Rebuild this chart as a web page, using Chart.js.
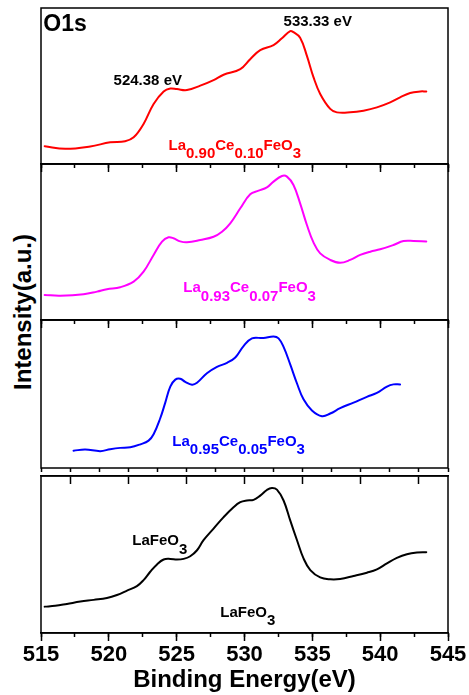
<!DOCTYPE html>
<html>
<head>
<meta charset="utf-8">
<script src="https://cdn.jsdelivr.net/npm/chart.js@4.4.1/dist/chart.umd.min.js"></script>
<style>
html,body{margin:0;padding:0;background:#fff;}
body{width:469px;height:695px;position:relative;overflow:hidden;}
canvas{position:absolute;left:0;}
#ylab{position:absolute;left:23px;top:312px;transform:translate(-50%,-50%) rotate(-90deg);font:bold 24px "Liberation Sans",Arial,sans-serif;white-space:nowrap;color:#000;}
</style>
</head>
<body>
<div id="ylab">Intensity(a.u.)</div>
<canvas id="c0"></canvas>
<canvas id="c1"></canvas>
<canvas id="c2"></canvas>
<canvas id="c3"></canvas>
<script>
// ---------- data ----------
const xTickValues = [515, 520, 525, 530, 535, 540, 545];
const xTickLabels = ['515', '520', '525', '530', '535', '540', '545'];
const xMinorValues = [515, 517.5, 520, 522.5, 525, 527.5, 530, 532.5, 535, 537.5, 540, 542.5, 545];
// own axis of the La0.95Ce0.05FeO3 panel
const blueTickValues = [515, 520, 525, 530, 535, 540, 545];
const blueMinorValues = [512.5, 515, 517.5, 520, 522.5, 525, 527.5, 530, 532.5, 535, 537.5, 540, 542.5, 545, 547.5];

const energy090 = [515.27,516.79,518.63,520.10,521.20,521.83,522.56,523.30,524.04,524.53,525.02,525.76,526.74,527.72,528.46,529.69,530.42,531.16,532.14,532.76,533.37,533.61,534.10,534.60,535.09,535.58,536.32,536.81,537.79,538.77,539.76,540.74,541.47,542.21,542.95,543.40];
const intensity090 = [11.4,9.7,11.2,13.9,14.6,17.1,25.7,38.5,46.5,48.4,48.0,47.4,50.2,53.8,57.2,60.8,67.2,73.0,76.2,80.6,85.2,84.5,81.0,69.3,55.5,44.9,35.3,33.1,33.1,34.2,36.3,39.5,42.7,45.5,46.5,46.5];

const energy093 = [515.27,516.42,518.14,519.13,519.86,520.84,521.83,522.56,523.30,523.92,524.40,524.77,525.26,525.76,526.74,527.72,528.34,528.95,529.69,530.42,531.04,531.65,532.14,532.76,533.13,533.61,534.10,534.60,535.09,535.58,536.32,537.05,537.79,538.53,539.27,540.00,540.98,541.72,542.46,543.40];
const intensity093 = [16.0,15.6,16.5,18.2,19.7,21.0,24.6,31.0,41.7,50.2,53.0,52.4,50.4,49.8,51.3,53.4,56.6,62.0,71.6,80.6,82.9,85.0,88.7,92.3,91.9,86.5,74.8,60.9,49.6,42.7,38.5,36.7,38.5,41.7,43.8,45.3,48.1,50.6,50.7,50.4];

const energy095 = [517.40,518.26,519.37,520.10,520.84,521.58,522.32,522.93,523.30,523.79,524.16,524.53,524.90,525.26,525.63,526.13,526.50,527.23,527.97,528.71,529.32,529.93,530.55,531.40,532.14,532.51,532.88,533.37,533.87,534.35,534.97,535.71,536.32,537.05,538.04,539.02,539.76,540.50,540.98,541.47];
const intensity095 = [11.7,12.5,11.4,12.7,13.6,14.0,16.0,18.5,22.8,33.6,44.2,55.0,59.7,60.3,58.2,56.3,57.6,64.0,68.3,71.1,74.7,82.4,87.6,87.8,88.9,87.6,81.8,70.0,57.1,46.4,38.9,35.0,36.8,40.4,44.2,48.1,50.7,55.0,56.5,56.5];

const energyLFO = [515.27,516.05,516.91,517.90,518.88,519.86,520.60,521.34,522.07,522.56,523.05,523.55,524.04,524.53,525.02,525.51,526.00,526.50,526.98,527.72,528.46,529.19,529.69,530.18,530.67,531.16,531.65,532.02,532.39,532.88,533.37,533.87,534.35,534.85,535.58,536.32,537.05,538.04,539.02,539.76,540.50,541.23,541.97,542.71,543.40];
const intensityLFO = [16.8,17.3,18.5,20.0,21.1,22.3,24.2,27.0,29.9,33.7,39.0,43.7,46.8,47.2,46.8,47.2,48.9,52.7,59.1,66.5,73.8,80.1,83.3,84.4,84.8,87.5,91.1,92.4,91.3,84.4,71.7,59.1,47.5,40.1,35.4,34.2,34.4,36.3,38.4,40.5,44.3,47.8,50.2,51.3,51.5];

// ---------- layout ----------
const FONT = '"Liberation Sans", Arial, sans-serif';
const panelEdges = [[8,164],[164,320],[320,476],[476,633]];
const SUB = 8.5;

function pts(xs, ys){ return xs.map((x,i)=>({x:x, y:ys[i]})); }

function textPlugin(items){
  return {
    id:'panelText',
    afterDatasetsDraw(chart){
      const ctx = chart.ctx, xs = chart.scales.x, ys = chart.scales.y;
      items.forEach(it=>{
        let px = xs.getPixelForValue(it.x);
        const py = ys.getPixelForValue(it.y);
        ctx.save();
        ctx.fillStyle = it.color;
        ctx.font = 'bold ' + it.size + 'px ' + FONT;
        ctx.textBaseline = 'middle';
        ctx.textAlign = 'left';
        it.parts.forEach(p=>{
          ctx.fillText(p[0], px, py + (p[1] ? SUB : 0));
          px += ctx.measureText(p[0]).width;
        });
        ctx.restore();
      });
    }
  };
}
const framePlugin = {
  id:'frame',
  afterDraw(chart){
    const a = chart.chartArea, ctx = chart.ctx;
    ctx.save();
    ctx.strokeStyle = '#000';
    ctx.lineWidth = 1.5;
    ctx.strokeRect(a.left, a.top, a.right - a.left, a.bottom - a.top);
    ctx.restore();
  }
};

function tickAxis(min, max, values, len, pos, extra){
  return Object.assign({
    type:'linear', min:min, max:max, position:pos,
    afterBuildTicks: s=>{ s.ticks = values.map(v=>({value:v})); },
    grid:{display:true, drawOnChartArea:false, drawTicks:true, tickLength:len, tickWidth:1.5, tickColor:'#000'},
    border:{display:false},
    ticks:{display:false}
  }, extra || {});
}

function makePanel(idx, data, color, items, ownAxis){
  const [top, bottom] = panelEdges[idx];
  const last = idx === panelEdges.length - 1;
  const padTop = 4;
  const axisH = last ? (695 - bottom) : 8;
  const padBottom = last ? 0 : 4;
  const cTop = top - padTop;
  const cH = (bottom - top) + padTop + axisH + padBottom;
  const cv = document.getElementById('c' + idx);
  cv.width = 469; cv.height = cH;
  cv.style.top = cTop + 'px';
  cv.style.width = '469px'; cv.style.height = cH + 'px';

  const scales = {
    x: {
      type:'linear', min:515, max:545, position:'bottom', display: !ownAxis,
      afterBuildTicks: s=>{ s.ticks = xTickValues.map(v=>({value:v})); },
      afterFit: s=>{ s.height = axisH; },
      grid:{display:true, drawOnChartArea:false, drawTicks:true, tickLength:8, tickWidth:1.5, tickColor:'#000'},
      border:{display:true, color:'#000', width:1.5},
      ticks:{
        display:last, autoSkip:false, maxRotation:0, padding:1, color:'#000',
        font:{family:FONT, size:22, weight:'bold'},
        callback:(v)=>{ const i = xTickValues.indexOf(v); return i >= 0 ? xTickLabels[i] : ''; }
      },
      title:{display:last, text:'Binding Energy(eV)', color:'#000', padding:{top:0, bottom:0},
        font:{family:FONT, size:24, weight:'bold'}}
    },
    y: {type:'linear', min:0, max:100, display:false}
  };
  if (!ownAxis) {
    scales.xm = tickAxis(515, 545, xMinorValues, 4, {y:0});
  } else {
    scales.xb = tickAxis(512.5, 547.5, blueTickValues, 8, 'bottom',
      {afterFit: s=>{ s.height = axisH; }, border:{display:true, color:'#000', width:1.5}});
    scales.xbm = tickAxis(512.5, 547.5, blueMinorValues, 4, {y:0});
  }

  return new Chart(cv, {
    type:'line',
    data:{datasets:[{
      data:data, xAxisID:'x', yAxisID:'y',
      borderColor:color, borderWidth:2, pointRadius:0, fill:false,
      tension:0.4, borderJoinStyle:'round', borderCapStyle:'round'
    }]},
    options:{
      responsive:false, animation:false, devicePixelRatio:1,
      layout:{padding:{left:41, right:21, top:padTop, bottom:padBottom}},
      plugins:{legend:{display:false}, tooltip:{enabled:false}},
      scales:scales
    },
    plugins:[framePlugin, textPlugin(items)]
  });
}

makePanel(0, pts(energy090, intensity090), '#ff0000', [
  {x:515.17, y:89.4, size:23, color:'#000', parts:[['O1s',0]]},
  {x:520.35, y:53.0, size:15, color:'#000', parts:[['524.38 eV',0]]},
  {x:532.88, y:91.0, size:15, color:'#000', parts:[['533.33 eV',0]]},
  {x:524.40, y:11.8, size:15, color:'#ff0000', parts:[['La',0],['0.90',1],['Ce',0],['0.10',1],['FeO',0],['3',1]]}
]);
makePanel(1, pts(energy093, intensity093), '#ff00ff', [
  {x:525.49, y:20.3, size:15, color:'#ff00ff', parts:[['La',0],['0.93',1],['Ce',0],['0.07',1],['FeO',0],['3',1]]}
]);
makePanel(2, pts(energy095, intensity095), '#0000ff', [
  {x:524.68, y:17.8, size:15, color:'#0000ff', parts:[['La',0],['0.95',1],['Ce',0],['0.05',1],['FeO',0],['3',1]]}
], true);
makePanel(3, pts(energyLFO, intensityLFO), '#000000', [
  {x:521.73, y:58.6, size:15, color:'#000', parts:[['LaFeO',0],['3',1]]},
  {x:528.21, y:13.0, size:15, color:'#000', parts:[['LaFeO',0],['3',1]]}
]);
</script>
</body>
</html>
